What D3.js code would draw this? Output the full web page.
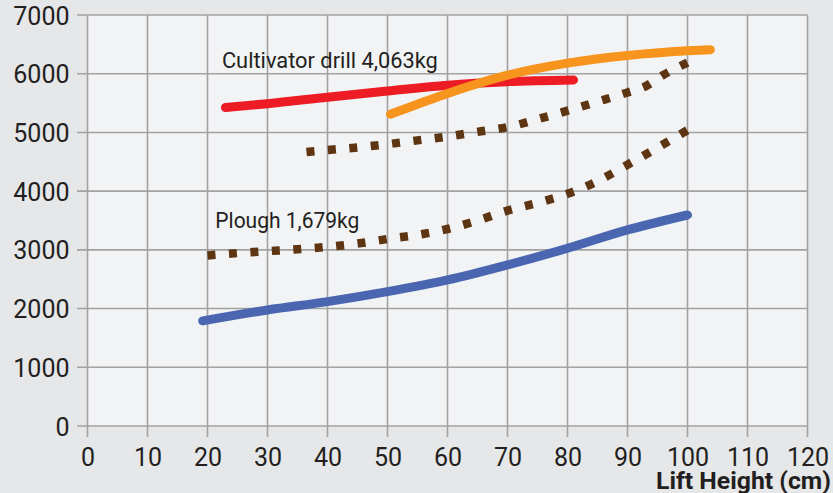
<!DOCTYPE html>
<html>
<head>
<meta charset="utf-8">
<script src="https://cdn.jsdelivr.net/npm/d3@7"></script>
<style>
  html, body { margin: 0; padding: 0; background: #e6e7e9; }
  svg { display: block; }
  text { font-family: Roboto, "Open Sans", sans-serif; fill: #231f20; }
</style>
</head>
<body>
<svg id="chart" width="833" height="493"></svg>
<script>
// ---- data ----
const xTicks = [0, 10, 20, 30, 40, 50, 60, 70, 80, 90, 100, 110, 120];
const yTicks = [0, 1000, 2000, 3000, 4000, 5000, 6000, 7000];

const cultivatorX = [23, 30, 40, 50, 60, 70, 81];
const cultivatorY = [5425, 5490, 5600, 5705, 5805, 5865, 5895];

const orangeX = [50.5, 55, 60, 65, 70, 80, 90, 100, 103.8];
const orangeY = [5310, 5480, 5665, 5830, 5975, 6180, 6310, 6390, 6410];

const upperDotX = [36.5, 40, 45, 50, 55, 60, 65, 70, 75, 80, 86, 90, 93, 96, 100];
const upperDotY = [4665, 4700, 4745, 4800, 4865, 4930, 5010, 5090, 5225, 5370, 5555, 5680, 5785, 5980, 6190];

const lowerDotX = [20, 25, 30, 35, 40, 45, 50, 55, 60, 65, 70, 75, 80, 85, 90, 95, 100];
const lowerDotY = [2905, 2945, 2978, 3010, 3052, 3107, 3185, 3255, 3355, 3500, 3668, 3800, 3955, 4170, 4450, 4740, 5040];

const ploughX = [19.2, 30, 40, 50, 60, 70, 80, 90, 100];
const ploughY = [1790, 1976, 2118, 2288, 2487, 2743, 3027, 3339, 3594];

const labels = ["Cultivator drill 4,063kg", "Plough 1,679kg"];
const xTitle = "Lift Height (cm)";

// ---- layout ----
const svg = d3.select("#chart");
const pLeft = 87.5, pRight = 807.5, pTop = 15, pBottom = 426;
const x = d3.scaleLinear().domain([0, 120]).range([pLeft, pRight]);
const y = d3.scaleLinear().domain([0, 7000]).range([pBottom, pTop]);

svg.append("rect").attr("width", 833).attr("height", 493).attr("fill", "#e6e7e9");
svg.append("rect").attr("x", pLeft).attr("y", pTop)
  .attr("width", pRight - pLeft).attr("height", pBottom - pTop).attr("fill", "#f2f3f5");

const gridColor = "#a2a2a2";
svg.append("g").selectAll("line").data(xTicks).join("line")
  .attr("x1", d => x(d)).attr("x2", d => x(d))
  .attr("y1", pTop).attr("y2", pBottom + 11)
  .attr("stroke", gridColor).attr("stroke-width", 1.6);
svg.append("g").selectAll("line").data(yTicks).join("line")
  .attr("x1", pLeft - 10.5).attr("x2", pRight)
  .attr("y1", d => y(d)).attr("y2", d => y(d))
  .attr("stroke", gridColor).attr("stroke-width", 1.6);

const xAxis = d3.axisBottom(x).tickValues(xTicks).tickSize(0).tickPadding(0).tickFormat(d3.format("d"));
const gx = svg.append("g").attr("transform", `translate(0,${pBottom})`).call(xAxis);
gx.select(".domain").remove();
gx.selectAll("text").attr("font-size", 25).attr("dy", null).attr("y", 39.5)
  .attr("fill", "#231f20").style("font-family", "Roboto, sans-serif");

const yAxis = d3.axisLeft(y).tickValues(yTicks).tickSize(0).tickPadding(0).tickFormat(d3.format("d"));
const gy = svg.append("g").attr("transform", `translate(${pLeft - 18},0)`).call(yAxis);
gy.select(".domain").remove();
gy.selectAll("text").attr("font-size", 25).attr("dy", "0.36em")
  .attr("fill", "#231f20").style("font-family", "Roboto, sans-serif");

const line = d3.line().x(d => x(d[0])).y(d => y(d[1])).curve(d3.curveMonotoneX);
const zip = (a, b) => a.map((v, i) => [v, b[i]]);

const series = [
  { xs: ploughX, ys: ploughY, color: "#4a66b0", dash: null },
  { xs: lowerDotX, ys: lowerDotY, color: "#5e3512", dash: "8,13.5" },
  { xs: upperDotX, ys: upperDotY, color: "#5e3512", dash: "8,13.5" },
  { xs: cultivatorX, ys: cultivatorY, color: "#ed1c24", dash: null },
  { xs: orangeX, ys: orangeY, color: "#f7941d", dash: null }
];
series.forEach(s => {
  svg.append("path").datum(zip(s.xs, s.ys))
    .attr("d", line).attr("fill", "none")
    .attr("stroke", s.color)
    .attr("stroke-width", s.dash ? 8.5 : 9)
    .attr("stroke-linecap", s.dash ? "butt" : "round")
    .attr("stroke-linejoin", "round")
    .attr("stroke-dasharray", s.dash);
});

svg.append("text").attr("x", x(22.4)).attr("y", y(6100))
  .attr("font-size", 22).attr("textLength", 216).attr("lengthAdjust", "spacingAndGlyphs")
  .text(labels[0]);
svg.append("text").attr("x", x(21.3)).attr("y", y(3370))
  .attr("font-size", 22).attr("textLength", 144).attr("lengthAdjust", "spacingAndGlyphs")
  .text(labels[1]);

svg.append("text").attr("x", 831).attr("y", 488.5).attr("text-anchor", "end")
  .attr("font-size", 23).attr("font-weight", "bold")
  .attr("textLength", 175).attr("lengthAdjust", "spacingAndGlyphs")
  .text(xTitle);
</script>
</body>
</html>
